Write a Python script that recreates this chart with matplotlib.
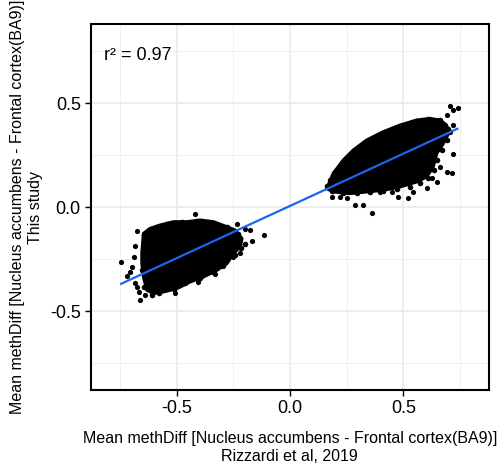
import numpy as np
import matplotlib
matplotlib.use('Agg')
import matplotlib.pyplot as plt
from matplotlib.patches import Polygon

plt.rcParams['font.family'] = ['Liberation Sans', 'DejaVu Sans']

# dense core of each cloud (outline)
left_hull_x = [-0.653, -0.646, -0.617, -0.573, -0.514, -0.455, -0.396, -0.338, -0.279, -0.242,
               -0.213, -0.220, -0.250, -0.279, -0.323, -0.382, -0.441, -0.499, -0.558, -0.602,
               -0.631, -0.646, -0.653]
left_hull_y = [-0.223, -0.127, -0.103, -0.087, -0.071, -0.071, -0.063, -0.071, -0.095, -0.111,
               -0.151, -0.191, -0.223, -0.271, -0.303, -0.335, -0.359, -0.391, -0.407, -0.415,
               -0.399, -0.335, -0.271]
right_hull_x = [0.169, 0.191, 0.235, 0.279, 0.338, 0.411, 0.485, 0.558, 0.617, 0.661, 0.690,
                0.698, 0.675, 0.646, 0.631, 0.602, 0.558, 0.485, 0.411, 0.338, 0.264, 0.191, 0.162]
right_hull_y = [0.106, 0.162, 0.226, 0.274, 0.322, 0.362, 0.394, 0.418, 0.426, 0.418, 0.394,
                0.354, 0.306, 0.258, 0.194, 0.146, 0.122, 0.098, 0.082, 0.074, 0.066, 0.074, 0.090]

# points along the fuzzy rim of each cloud
left_rim_x = [-0.624, -0.587, -0.543, -0.477, -0.411, -0.352, -0.279, -0.228, -0.198, -0.217,
              -0.242, -0.294, -0.338, -0.396, -0.463, -0.514, -0.580, -0.609, -0.646, -0.653,
              -0.649, -0.643]
left_rim_y = [-0.111, -0.095, -0.082, -0.071, -0.066, -0.075, -0.095, -0.127, -0.175, -0.199,
              -0.231, -0.279, -0.311, -0.343, -0.367, -0.393, -0.412, -0.423, -0.383, -0.303,
              -0.207, -0.135]
right_rim_x = [0.176, 0.198, 0.228, 0.264, 0.308, 0.352, 0.396, 0.448, 0.507, 0.558, 0.609,
               0.661, 0.698, 0.690, 0.668, 0.649, 0.634, 0.609, 0.573, 0.529, 0.470, 0.411,
               0.352, 0.294, 0.235, 0.184, 0.162]
right_rim_y = [0.130, 0.170, 0.210, 0.242, 0.282, 0.322, 0.346, 0.370, 0.394, 0.415, 0.426,
               0.421, 0.378, 0.322, 0.274, 0.226, 0.178, 0.138, 0.114, 0.098, 0.085, 0.078,
               0.072, 0.066, 0.069, 0.079, 0.101]

# scattered points outside the cores
out_x = [-0.744, -0.720, -0.675, -0.683, -0.690, -0.698, -0.675, -0.668, -0.661, -0.639,
         -0.418, -0.235, -0.198, -0.176, -0.166, -0.117, -0.330, -0.404, -0.507, -0.543,
         -0.683, -0.705, -0.220, -0.250, -0.294,
         0.720, 0.742, 0.705, 0.690, 0.717, 0.712, 0.690, 0.661, 0.646, 0.624,
         0.602, 0.521, 0.477, 0.448, 0.360, 0.323, 0.286, 0.250, 0.184, 0.220,
         0.279, 0.720, 0.705, 0.396, 0.543]
out_y = [-0.266, -0.332, -0.115, -0.186, -0.239, -0.287, -0.383, -0.407, -0.447, -0.423,
         -0.032, -0.080, -0.103, -0.111, -0.162, -0.135, -0.322, -0.359, -0.415, -0.378,
         -0.367, -0.311, -0.223, -0.239, -0.282,
         0.466, 0.479, 0.486, 0.442, 0.258, 0.162, 0.170, 0.194, 0.122, 0.138,
         0.090, 0.042, 0.050, 0.074, -0.027, 0.010, 0.010, 0.046, 0.050, 0.050,
         0.242, 0.394, 0.362, 0.074, 0.074]

# linear fit
fit_slope = 0.503
fit_intercept = 0.006
fit_range = [-0.745, 0.738]

fig = plt.figure(figsize=(5.03, 4.66), dpi=100)
ax = fig.add_axes([0.180, 0.163, 0.792, 0.785])

for hx, hy in [(left_hull_x, left_hull_y), (right_hull_x, right_hull_y)]:
    ax.add_patch(Polygon(np.column_stack([hx, hy]), closed=True, fc='black', ec='black',
                         lw=2.5, joinstyle='round', zorder=2))
ax.scatter(left_rim_x + right_rim_x, left_rim_y + right_rim_y, s=16, c='black', lw=0, zorder=3)
ax.scatter(out_x, out_y, s=14, c='black', lw=0, zorder=3)

xs = np.array(fit_range)
ax.plot(xs, fit_slope * xs + fit_intercept, c='#1a66ee', lw=1.6, zorder=4)

ax.text(-0.819, 0.71, 'r² = 0.97', fontsize=13, va='baseline', ha='left')

ax.set_xlim(-0.88, 0.877)
ax.set_ylim(-0.88, 0.88)
ax.set_xticks([-0.5, 0.0, 0.5])
ax.set_yticks([-0.5, 0.0, 0.5])
ax.set_xticklabels(['-0.5', '0.0', '0.5'])
ax.set_yticklabels(['-0.5', '0.0', '0.5'])
ax.set_xticks([-0.75, -0.25, 0.25, 0.75], minor=True)
ax.set_yticks([-0.75, -0.25, 0.25, 0.75], minor=True)
ax.grid(True, which='major', color='#e8e8e8', lw=1.1, zorder=0)
ax.grid(True, which='minor', color='#f0f0f0', lw=0.7, zorder=0)
ax.set_axisbelow(True)
ax.tick_params(which='major', length=4, width=1, color='black', labelsize=13, pad=3)
ax.tick_params(which='minor', length=0)
for s in ax.spines.values():
    s.set_linewidth(1.5)
    s.set_color('black')

ax.set_xlabel('Mean methDiff [Nucleus accumbens - Frontal cortex(BA9)]\nRizzardi et al, 2019',
              fontsize=11.5, labelpad=10, linespacing=1.25)
ax.set_ylabel('Mean methDiff [Nucleus accumbens - Frontal cortex(BA9)]\nThis study',
              fontsize=11.5, labelpad=5, linespacing=1.25)

fig.savefig('out.png', dpi=100)
